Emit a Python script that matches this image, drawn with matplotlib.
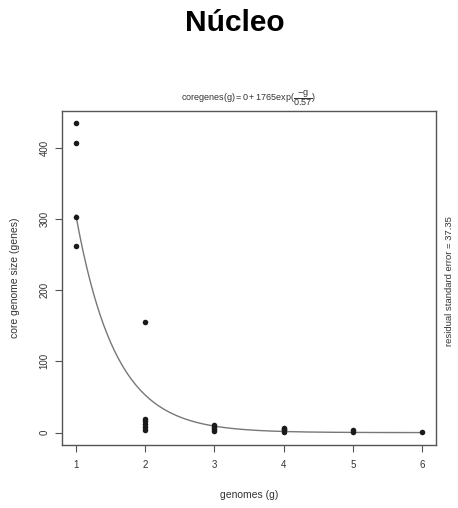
import matplotlib
matplotlib.use("Agg")
import matplotlib.pyplot as plt
import numpy as np

plt.rcParams["font.family"] = ["Liberation Sans", "DejaVu Sans"]
plt.rcParams["mathtext.fontset"] = "custom"
plt.rcParams["mathtext.rm"] = "Liberation Sans"
plt.rcParams["mathtext.it"] = "Liberation Sans"

# core genome size per number of genomes sampled
genomes = [1, 1, 1, 1,
           2, 2, 2, 2, 2, 2,
           3, 3, 3, 3,
           4, 4, 4, 4,
           5, 5,
           6]
core_genes = [434, 406, 302, 262,
              155, 19, 16, 12, 8, 4,
              11, 8, 5, 2,
              6, 5, 3, 1,
              3, 1,
              1]

# fitted exponential decay: coregenes(g) = 0 + 1765 * exp(-g / 0.57)
fit_offset = 0
fit_amp = 1765
fit_tau = 0.57
residual_se = 37.35

ax_color = "#555555"
txt_color = "#333333"

fig = plt.figure(figsize=(4.58, 5.08), dpi=100)
ax = fig.add_axes([0.1354, 0.124, 0.8166, 0.6575])

ax.scatter(genomes, core_genes, s=16, color="#1a1a1a", zorder=3, linewidths=0)

g = np.linspace(1, 6, 300)
ax.plot(g, fit_offset + fit_amp * np.exp(-g / fit_tau), color="#777777", lw=1.0)

ax.set_xlim(0.8, 6.2)
ax.set_ylim(-17.4, 451.4)
ax.set_xticks([1, 2, 3, 4, 5, 6])
ax.set_yticks([0, 100, 200, 300, 400])
ax.tick_params(colors=ax_color, labelcolor=txt_color, labelsize=7, length=5, width=0.8, pad=6)
ax.tick_params(axis="y", pad=4)
for lab in ax.get_yticklabels():
    lab.set_rotation(90)
    lab.set_va("center")
for sp in ax.spines.values():
    sp.set_color(ax_color)
    sp.set_linewidth(1.0)

ax.set_xlabel("genomes (g)", fontsize=7.5, color=txt_color, labelpad=14)
ax.set_ylabel("core genome size (genes)", fontsize=7.5, color=txt_color, labelpad=14)

ax.set_title(r"$\mathrm{coregenes(g)=0+1765exp(}\dfrac{-g}{0.57}\mathrm{)}$",
             fontsize=6.5, color=txt_color, pad=7)
ax.text(1.035, 0.49, f"residual standard error = {residual_se}", transform=ax.transAxes,
        rotation=90, ha="center", va="center", fontsize=6.8, color=txt_color)

fig.text(0.512, 0.955, "Núcleo", fontsize=21.5, fontweight="bold", ha="center", va="center")

fig.savefig("out.png", dpi=100)
